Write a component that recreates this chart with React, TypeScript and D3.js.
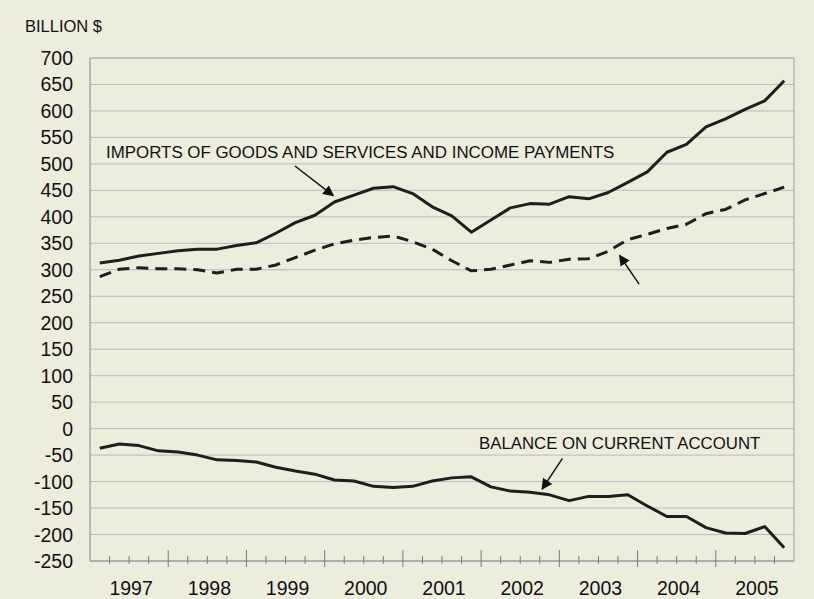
import React from 'react';
import * as d3 from 'd3';

// quarterly values, 1997Q1 .. 2005Q4, billion $
const years = [1997, 1998, 1999, 2000, 2001, 2002, 2003, 2004, 2005];

const imports = [
  313, 318, 326, 331,
  336, 339, 339, 346,
  351, 369, 389, 403,
  428, 441, 454, 457,
  444, 419, 402, 371,
  394, 417, 425, 424,
  438, 434, 446, 465,
  485, 522, 537, 570,
  585, 603, 619, 657,
];

const exportsIncome = [
  287, 301, 304, 302,
  302, 300, 294, 301,
  301, 309, 323, 337,
  349, 356, 361, 364,
  353, 339, 317, 298,
  301, 309, 317, 314,
  320, 321, 335, 357,
  367, 378, 386, 406,
  414, 432, 444, 456,
];

const balance = [
  -37, -29, -32, -42,
  -44, -50, -59, -60,
  -63, -73, -80, -86,
  -97, -99, -109, -111,
  -109, -99, -93, -91,
  -110, -118, -120, -125,
  -136, -128, -128, -125,
  -146, -166, -166, -187,
  -197, -198, -185, -225,
];

const yTicks = d3.range(-250, 701, 50);

const W = 814;
const H = 599;
const m = { left: 90, right: 20, top: 58, bottom: 38 };
const BG = '#ededdc';
const FONT = '"Liberation Sans", Arial, sans-serif';

export default function App() {
  const x = d3.scaleLinear().domain([1997, 2006]).range([m.left, W - m.right]);
  const y = d3.scaleLinear().domain([-250, 700]).range([H - m.bottom, m.top]);

  const qx = (i: number) => x(1997 + (i + 0.5) / 4);
  const line = d3.line<number>()
    .x((_, i) => qx(i))
    .y(d => y(d))
    .curve(d3.curveLinear);

  const quarters = d3.range(1, 36).map(k => 1997 + k / 4);
  const x0 = x.range()[0];
  const x1 = x.range()[1];
  const yb = y(-250);

  // annotation arrows, placed in data space
  const arrows = [
    { from: [1999.62, 496], to: [2000.11, 440] },
    { from: [2004.02, 273], to: [2003.77, 327] },
    { from: [2003.04, -56], to: [2002.78, -114] },
  ];

  return (
    <svg width={W} height={H} style={{ position: 'absolute', left: 0, top: 0, display: 'block' }}
      fontFamily={FONT}>
      <defs>
        <marker id="ah" viewBox="0 0 10 10" refX="9" refY="5" markerWidth="11" markerHeight="11"
          markerUnits="userSpaceOnUse" orient="auto">
          <path d="M0,0 L10,5 L0,10 z" fill="#111" />
        </marker>
      </defs>
      <rect width={W} height={H} fill={BG} />

      {yTicks.map(t => (
        <g key={t}>
          <line x1={x0} x2={x1} y1={y(t)} y2={y(t)} stroke={t === 700 ? '#9a9a9a' : '#b9b9c2'} strokeWidth={1} />
          <text x={73} y={y(t)} dy="0.36em" textAnchor="end" fontSize={19.5} fill="#111">{t}</text>
        </g>
      ))}

      <line x1={x0} x2={x0} y1={y(700)} y2={yb} stroke="#8a8a8a" />
      <line x1={x1} x2={x1} y1={y(700)} y2={yb} stroke="#a0a0a0" />
      <line x1={x0} x2={x1} y1={yb} y2={yb} stroke="#8a8a8a" />

      {quarters.map(q => {
        const major = Number.isInteger(q);
        return (
          <line key={q} x1={x(q)} x2={x(q)} y1={yb - (major ? 11 : 5)} y2={yb + (major ? 6 : 3)}
            stroke="#7a7a7a" strokeWidth={1} />
        );
      })}

      {years.map(yr => (
        <text key={yr} x={x(yr + 0.5) + 2} y={595} textAnchor="middle" fontSize={19.5} fill="#111">{yr}</text>
      ))}

      <text x={25} y={32} fontSize={16.5} fill="#111">BILLION $</text>

      <g fill="none" stroke="#1e1e1e" strokeWidth={3} strokeLinejoin="round">
        <path d={line(exportsIncome) ?? ''} strokeDasharray="12 7" />
        <path d={line(imports) ?? ''} />
        <path d={line(balance) ?? ''} />
      </g>

      <text x={106} y={158} fontSize={16.9} fill="#111">IMPORTS OF GOODS AND SERVICES AND INCOME PAYMENTS</text>
      <text x={479} y={449} fontSize={16.8} fill="#111">BALANCE ON CURRENT ACCOUNT</text>

      {arrows.map((a, i) => (
        <line key={i} x1={x(a.from[0])} y1={y(a.from[1])} x2={x(a.to[0])} y2={y(a.to[1])}
          stroke="#111" strokeWidth={1.4} markerEnd="url(#ah)" />
      ))}
    </svg>
  );
}
